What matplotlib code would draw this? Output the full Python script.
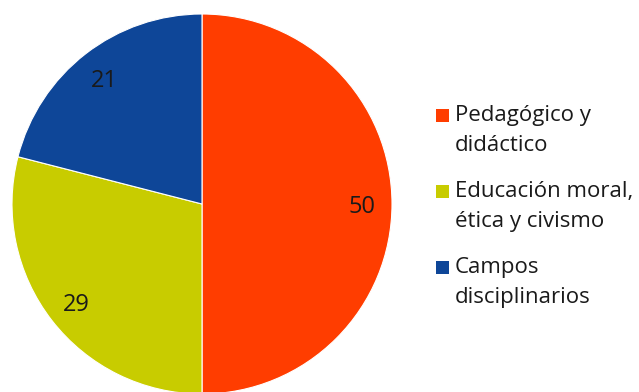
import matplotlib
matplotlib.use('Agg')
import matplotlib.pyplot as plt
from matplotlib.patches import Rectangle

# Datos del gráfico
categorias = [['Pedagógico y', 'didáctico'],
              ['Educación moral,', 'ética y civismo'],
              ['Campos', 'disciplinarios']]
valores = [50, 29, 21]
colores = ['#FF3D00', '#C8CC00', '#0E4698']

plt.rcParams['font.family'] = ['Open Sans', 'DejaVu Sans']

W, H = 639, 392
fig = plt.figure(figsize=(W / 100, H / 100), dpi=100)
ax = fig.add_axes([12 / W, -2 / H, 380 / W, 380 / H])

wedges, textos = ax.pie(valores, colors=colores, startangle=90, counterclock=False,
                        labels=[str(v) for v in valores], labeldistance=0.84,
                        wedgeprops={'linewidth': 0.8, 'edgecolor': 'white'},
                        textprops={'fontsize': 17, 'color': '#1a1a1a'})
for t in textos:
    x, y = t.get_position()
    t.set_position((x, y - 0.015))
    t.set_horizontalalignment('center')
    t.set_verticalalignment('center')
ax.set_xlim(-1, 1)
ax.set_ylim(-1, 1)
ax.set_aspect('equal')

# Leyenda a mano: cuadro junto a la primera línea de cada entrada
base = 121
for i, (lineas, c) in enumerate(zip(categorias, colores)):
    y0 = base + i * 76
    fig.patches.append(Rectangle((436 / W, 1 - (y0 + 0.5) / H), 13 / W, 13 / H,
                                 transform=fig.transFigure, facecolor=c,
                                 edgecolor='none'))
    for j, linea in enumerate(lineas):
        fig.text(455 / W, 1 - (y0 + j * 30) / H, linea, fontsize=16,
                 color='#1a1a1a', ha='left', va='baseline')

plt.savefig('out.png', dpi=100)
